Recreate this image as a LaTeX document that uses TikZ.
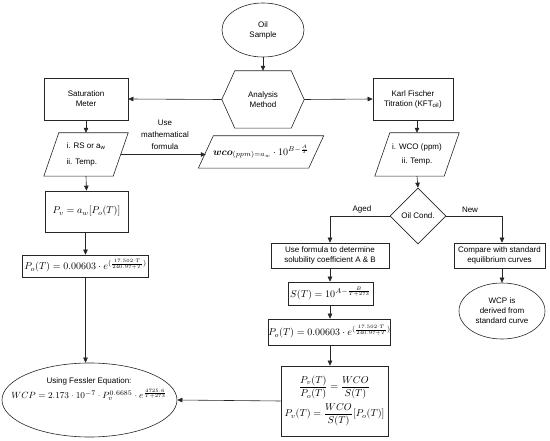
\documentclass[tikz,border=0pt]{standalone}
\usepackage[no-math]{fontspec}
\setmainfont{Liberation Sans}
\usepackage{amsmath}
\usetikzlibrary{shapes.geometric,arrows.meta}
\tikzset{
  base/.style={draw=black!85, line width=0.6pt, font=\fontsize{8}{10}\selectfont, align=center, inner sep=0pt},
  box/.style={base, rectangle},
  txt/.style={font=\fontsize{8}{10}\selectfont, align=center, inner sep=0pt},
  mth/.style={font=\fontsize{10}{12}\selectfont},
  ell/.style={base, ellipse},
  arr/.style={draw=black!85, line width=0.6pt, -{Triangle[length=5pt,width=4.5pt]}},
  ln/.style={draw=black!85, line width=0.6pt},
}
\newcommand\drawpara[2]{\draw[ln] ([xshift=#2/2]#1.north west) -- ([xshift=#2/2]#1.north east) -- ([xshift=-#2/2]#1.south east) -- ([xshift=-#2/2]#1.south west) -- cycle;}
\begin{document}
\begin{tikzpicture}[x=1pt,y=-1pt]
\useasboundingbox[fill=white] (0,0) rectangle (550,441);
% top
\node[ell, minimum width=82, minimum height=54] (oil) at (263,30) {Oil\\Sample};
\node[txt, minimum width=82, minimum height=57] (am) at (263,99.5) {Analysis\\Method};
\draw[ln] (am.west) -- ([xshift=13]am.north west) -- ([xshift=-13]am.north east) -- (am.east) -- ([xshift=-13]am.south east) -- ([xshift=13]am.south west) -- cycle;
\node[box, minimum width=84, minimum height=42] (sm) at (86,99) {Saturation\\Meter};
\node[box, minimum width=80, minimum height=42] (kft) at (413,99) {Karl Fischer\\Titration (KFT\textsubscript{oil})};
% parallelograms
\node[txt, minimum width=69, minimum height=43, align=left] (rs) at (86,154.5) {i. RS or a\textsubscript{w}\\[6pt]ii. Temp.};
\drawpara{rs}{15}
\node[txt, mth, minimum width=110, minimum height=32] (fm) at (261,152) {$\boldsymbol{wco}_{(ppm)=a_w}\cdot 10^{B-\frac{A}{T}}$};
\drawpara{fm}{15}
\node[txt, minimum width=69, minimum height=43] (wco) at (417,154.5) {i. WCO (ppm)\\[4pt]ii. Temp.};
\drawpara{wco}{15}
\node[txt] (lbl) at (165,135) {Use\\[2pt]mathematical\\[2pt]formula};
% left column
\node[box, mth, minimum width=83, minimum height=41] (pv) at (86.5,211.5) {$P_v = a_w[P_o(T)]$};
\node[box, mth, minimum width=126, minimum height=22] (po1) at (85.5,266) {$P_o(T) = 0.00603\cdot e^{(\frac{17.502\cdot T}{240.97+T})}$};
\node[ell, minimum width=175, minimum height=74] (fes) at (89.5,400) {};
\node[txt] (festxt) at (89,389) {Using Fessler Equation:\\[3pt]{\fontsize{9.5}{11}\selectfont$WCP = 2.173\cdot 10^{-7}\cdot P_v^{0.6685}\cdot e^{\frac{4725.6}{T+273}}$}};
% right column
\node[base, diamond, minimum width=56, minimum height=56] (oc) at (418,216) {Oil Cond.};
\node[box, minimum width=118, minimum height=25] (ag) at (330,255.5) {Use formula to determine\\solubility coefficient A \& B};
\node[box, minimum width=91, minimum height=25] (nw) at (499.5,255.5) {Compare with standard\\equilibrium curves};
\node[ell, minimum width=86, minimum height=56] (wcp) at (502,311) {WCP is\\derived from\\standard curve};
\node[box, mth, minimum width=85, minimum height=23] (st) at (330.5,293.5) {$S(T) = 10^{A-\frac{B}{T+273}}$};
\node[box, mth, minimum width=121, minimum height=26] (po2) at (329.5,332) {$P_o(T) = 0.00603\cdot e^{(\frac{17.502\cdot T}{240.97+T})}$};
\node[box, mth, minimum width=107, minimum height=70] (bb) at (334.5,401) {$\dfrac{P_v(T)}{P_o(T)} = \dfrac{WCO}{S(T)}$\\[3pt]$P_v(T) = \dfrac{WCO}{S(T)}[P_o(T)]$};
% connectors
\draw[arr] (oil.south) -- (am.north);
\draw[arr] (am.west) -- (sm.east);
\draw[arr] (am.east) -- (kft.west);
\draw[arr] (sm.south) -- (rs.north);
\draw[arr] (kft.south -| wco.north) -- (wco.north);
\draw[arr] (rs.east) -- (rs.east -| fm.west);
\draw[arr] (rs.south) -- (pv.north);
\draw[arr] (pv.south) -- (po1.south |- pv.south) -- (po1.north);
\draw[arr] (po1.south) -- (po1.south |- fes.north);
\draw[arr] (wco.south) -- (oc.north);
\draw[arr] (oc.west) -- (ag.north |- oc.west) -- (ag.north);
\draw[arr] (oc.east) -- (wcp.north |- oc.east) -- (wcp.north |- nw.north);
\draw[arr] (nw.south -| wcp.north) -- (wcp.north);
\draw[arr] (ag.south) -- (st.north -| ag.south);
\draw[arr] (st.south -| ag.south) -- (po2.north -| ag.south);
\draw[arr] (po2.south -| ag.south) -- (bb.north -| ag.south);
\draw[arr] (bb.west) -- (fes.east);
\node[txt, anchor=south] (aged) at (362,213) {Aged};
\node[txt, anchor=south] (new) at (470,213) {New};
\end{tikzpicture}
\end{document}
